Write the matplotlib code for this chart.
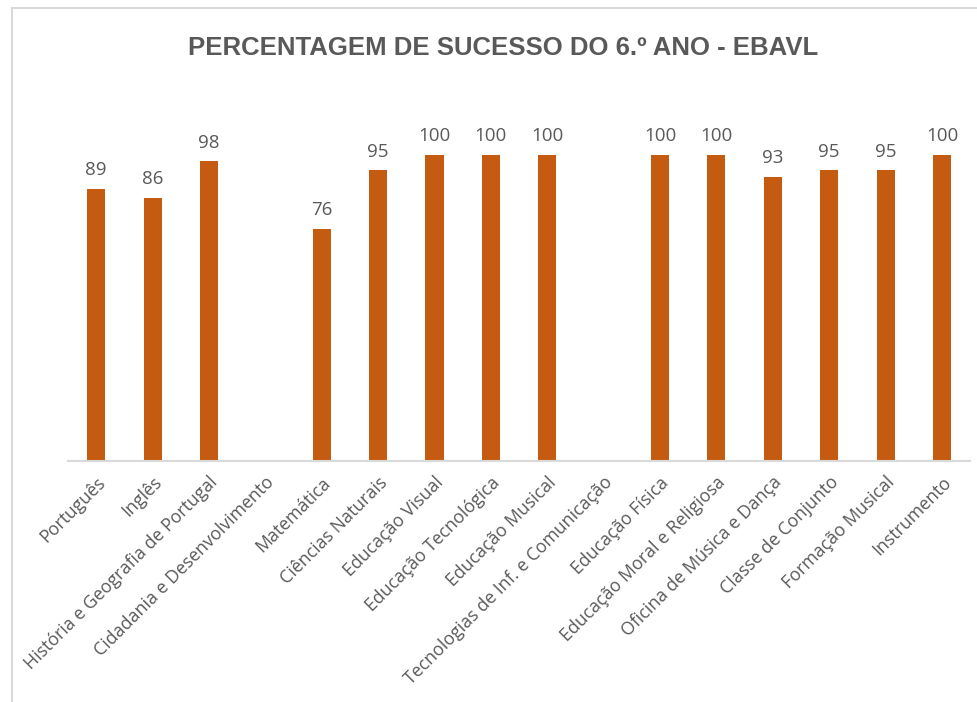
import numpy as np
import matplotlib
matplotlib.use("Agg")
import matplotlib.pyplot as plt
from matplotlib.lines import Line2D

disciplinas = [
    "Português", "Inglês", "História e Geografia de Portugal",
    "Cidadania e Desenvolvimento", "Matemática", "Ciências Naturais",
    "Educação Visual", "Educação Tecnológica", "Educação Musical",
    "Tecnologias de Inf. e Comunicação", "Educação Física",
    "Educação Moral e Religiosa", "Oficina de Música e Dança",
    "Classe de Conjunto", "Formação Musical", "Instrumento",
]
sucesso = [89, 86, 98, None, 76, 95, 100, 100, 100, None, 100, 100, 93, 95, 95, 100]

cor_barra = "#C55A11"
cor_texto = "#595959"

plt.rcParams["font.family"] = ["Open Sans", "DejaVu Sans"]

fig = plt.figure(figsize=(9.78, 7.02), dpi=100)
ax = fig.add_axes([0.0695, 0.3433, 0.9225, 0.5228])

x = np.arange(len(disciplinas))
valores = np.array([np.nan if v is None else v for v in sucesso], dtype=float)
ax.bar(x, np.nan_to_num(valores), width=0.32, color=cor_barra, zorder=2)

for xi, v in zip(x, sucesso):
    if v is None:
        continue
    ax.annotate(str(v), (xi, v), xytext=(0, 7), textcoords="offset points",
                ha="center", va="bottom", fontsize=13.5, color=cor_texto)

ax.set_xlim(-0.5, len(disciplinas) - 0.5)
ax.set_ylim(0, 120)
ax.set_yticks([])
ax.set_xticks(x)
ax.set_xticklabels(disciplinas, rotation=45, ha="right", rotation_mode="anchor",
                   fontsize=12.8, color=cor_texto)
ax.tick_params(axis="x", length=0, pad=9)
for lado in ["top", "right", "left"]:
    ax.spines[lado].set_visible(False)
ax.spines["bottom"].set_color("#D9D9D9")
ax.spines["bottom"].set_linewidth(1.5)

fig.text(0.514, 0.932, "PERCENTAGEM DE SUCESSO DO 6.º ANO - EBAVL",
         ha="center", va="center", fontsize=18.5, fontweight="bold",
         color=cor_texto, family=["Liberation Sans"])

# moldura do gráfico
fig.add_artist(Line2D([12 / 978, 12 / 978], [0, 1 - 8 / 702],
                      color="#D9D9D9", lw=1.5))
fig.add_artist(Line2D([12 / 978, 1], [1 - 8 / 702, 1 - 8 / 702],
                      color="#D9D9D9", lw=1.5))

fig.savefig("out.png", dpi=100, facecolor="white")
